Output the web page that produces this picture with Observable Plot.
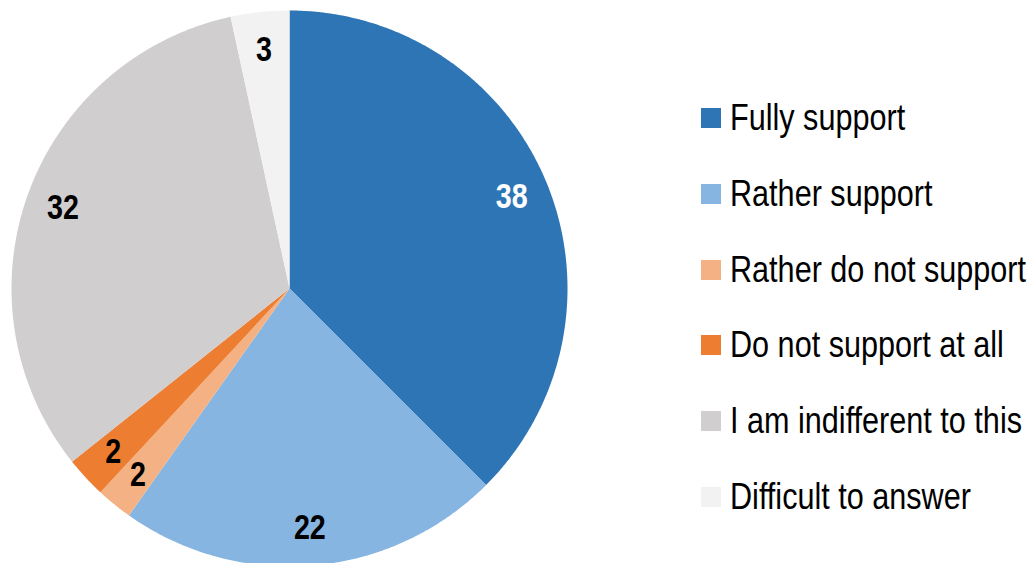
<!DOCTYPE html>
<html>
<head>
<meta charset="utf-8">
<script src="https://cdn.jsdelivr.net/npm/d3@7"></script>
<script src="https://cdn.jsdelivr.net/npm/@observablehq/plot@0.6"></script>
<style>
  html, body { margin: 0; padding: 0; background: #fff; }
  #wrap { position: relative; width: 1030px; height: 563px; overflow: hidden;
          font-family: "Liberation Sans", Arial, sans-serif; }
  #chart { position: absolute; left: 0; top: 0; }
  #legend { position: absolute; left: 701px; top: 99px; }
  .row { display: flex; align-items: center; height: 38px; margin-bottom: 37.8px; }
  .sw { width: 20px; height: 20px; margin-right: 9px; flex: none; }
  .lab { font-size: 36px; color: #000; white-space: nowrap; line-height: 38px;
         display: inline-block; transform: scaleX(0.85); transform-origin: 0 50%; }
</style>
</head>
<body>
<div id="wrap">
  <div id="chart"></div>
  <div id="legend"></div>
</div>
<script>
const categories = ["Fully support", "Rather support", "Rather do not support", "Do not support at all", "I am indifferent to this", "Difficult to answer"];
// slice shares
const shares = [37.5, 22.3, 2.1, 2.4, 32.3, 3.4];
// labels printed on the slices
const valueLabels = ["38", "22", "2", "2", "32", "3"];
const colors = ["#2E75B6", "#85B5E0", "#F4B183", "#ED7D31", "#D0CECE", "#F2F2F2"];
const labelColors = ["#ffffff", "#000000", "#000000", "#000000", "#000000", "#000000"];

const data = categories.map((c, i) => ({cat: c, value: shares[i], label: valueLabels[i]}));
const arcs = d3.pie().sort(null).value(d => d.value)(data);

// polygon points for each slice, unit circle, y up
const pts = [];
arcs.forEach(a => {
  const cat = a.data.cat;
  pts.push({cat, x: 0, y: 0});
  const n = Math.max(2, Math.ceil((a.endAngle - a.startAngle) / (Math.PI / 360)));
  for (let k = 0; k <= n; k++) {
    const t = a.startAngle + (a.endAngle - a.startAngle) * k / n;
    pts.push({cat, x: Math.sin(t), y: Math.cos(t)});
  }
});

const lr = 0.865;
const labels = arcs.map((a, i) => {
  const m = (a.startAngle + a.endAngle) / 2;
  return {cat: a.data.cat, text: a.data.label, x: lr * Math.sin(m), y: lr * Math.cos(m), color: labelColors[i]};
});

const cx = 289, cy = 288, R = 278;
const plot = Plot.plot({
  width: 1030,
  height: 563,
  margin: 0,
  x: {domain: [-1, 1], range: [cx - R, cx + R], axis: null},
  y: {domain: [-1, 1], range: [cy + R, cy - R], axis: null},
  color: {domain: categories, range: colors},
  style: {fontFamily: '"Liberation Sans", Arial, sans-serif', background: "transparent", overflow: "visible"},
  marks: [
    Plot.line(pts, {x: "x", y: "y", z: "cat", fill: "cat", stroke: "none", curve: "linear-closed"}),
    Plot.text(labels, {x: "x", y: "y", text: "text", fill: "color", fontSize: 35, fontWeight: "bold", textAnchor: "middle", lineAnchor: "middle"})
  ]
});
// condense the bold labels like a narrow font
plot.querySelectorAll("text").forEach(t => {
  const tr = t.getAttribute("transform");
  if (tr) t.setAttribute("transform", tr + " scale(0.82,1)");
});
document.getElementById("chart").appendChild(plot);

const leg = document.getElementById("legend");
categories.forEach((c, i) => {
  const row = document.createElement("div");
  row.className = "row";
  const sw = document.createElement("div");
  sw.className = "sw";
  sw.style.background = colors[i];
  const lab = document.createElement("div");
  lab.className = "lab";
  lab.textContent = c;
  row.appendChild(sw);
  row.appendChild(lab);
  leg.appendChild(row);
});
</script>
</body>
</html>
